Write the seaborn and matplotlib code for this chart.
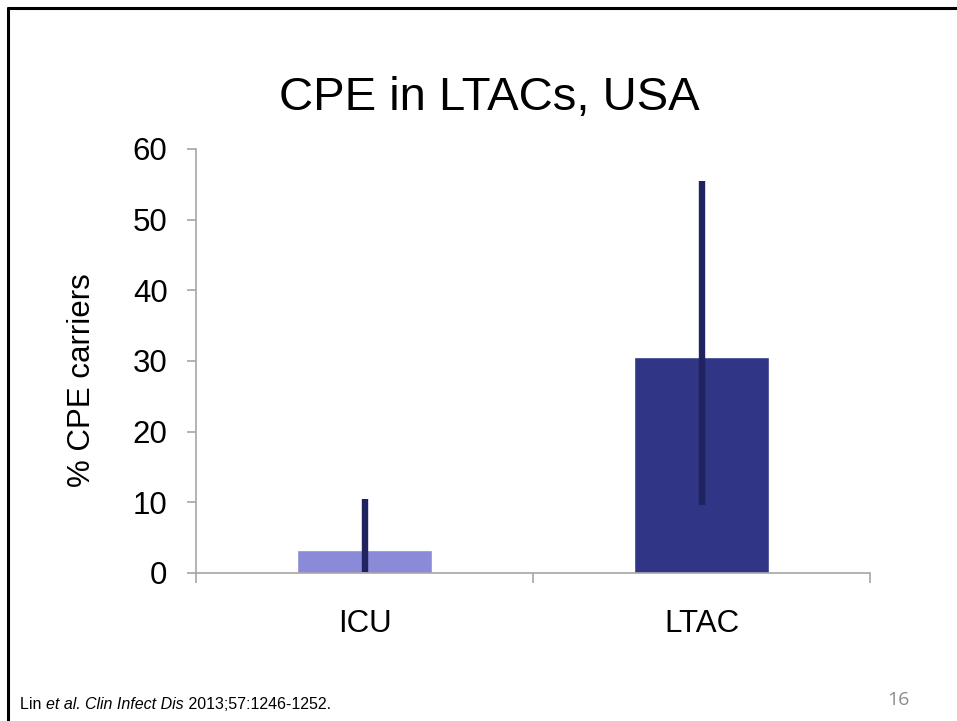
import matplotlib
matplotlib.use("Agg")
import matplotlib.pyplot as plt
from matplotlib.lines import Line2D
import seaborn as sns

# data
categories = ["ICU", "LTAC"]
pct_carriers = [3.3, 30.5]
ci_low = [0.1, 9.6]
ci_high = [10.5, 55.5]
bar_colors = ["#8a8ad8", "#313585"]
y_ticks = [0, 10, 20, 30, 40, 50, 60]

sns.set_theme(style="white")
plt.rcParams["font.family"] = ["Liberation Sans", "DejaVu Sans"]

W, H = 957, 721
fig = plt.figure(figsize=(W / 100, H / 100), dpi=100)
ax = fig.add_axes([196 / W, 1 - 573 / H, (870 - 196) / W, (573 - 149) / H])

sns.barplot(x=categories, y=pct_carriers, hue=categories, palette=bar_colors,
            width=0.4, errorbar=None, legend=False, saturation=1, ax=ax)

xpos = list(range(len(categories)))
yerr = [[p - lo for p, lo in zip(pct_carriers, ci_low)],
        [hi - p for p, hi in zip(pct_carriers, ci_high)]]
ax.errorbar(xpos, pct_carriers, yerr=yerr, fmt="none", ecolor="#1f2460",
            elinewidth=4.6, capsize=0, zorder=5)

ax.set_xlim(-0.5, 1.5)
ax.set_ylim(0, 60)
ax.set_yticks(y_ticks)
ax.set_xticks(xpos)
ax.set_xticklabels(categories)
ax.set_xticks([-0.5, 0.5, 1.5], minor=True)
ax.set_xlabel("")
ax.set_ylabel("")

grey = "#a6a6a6"
for side in ["top", "right"]:
    ax.spines[side].set_visible(False)
for side in ["left", "bottom"]:
    ax.spines[side].set_color(grey)
    ax.spines[side].set_linewidth(1.2)

ax.tick_params(axis="y", which="major", direction="out", length=6.5, width=1.2,
               color=grey, labelsize=22.5, pad=14, left=True, labelcolor="black")
ax.tick_params(axis="x", which="major", length=0, labelsize=22.5, pad=26,
               labelcolor="black")
ax.tick_params(axis="x", which="minor", direction="out", length=7.5, width=1.2,
               color=grey, bottom=True)

fig.text(489 / W, 1 - 110 / H, "CPE in LTACs, USA", fontsize=34,
         ha="center", va="baseline", color="black")
fig.text(82 / W, 1 - 380 / H, "% CPE carriers", fontsize=22.5, rotation=90,
         ha="center", va="center", color="black")

# citation line with italic parts
pieces = [("Lin ", "normal"), ("et al.", "italic"), (" ", "normal"),
          ("Clin Infect Dis", "italic"), (" 2013;57:1246-1252.", "normal")]
fig.canvas.draw()
renderer = fig.canvas.get_renderer()
x = 20
for txt, style in pieces:
    t = fig.text(x / W, 1 - 709 / H, txt, fontsize=11.5, style=style,
                 ha="left", va="baseline", color="black")
    bb = t.get_window_extent(renderer=renderer)
    x = bb.x1

fig.text(898 / W, 1 - 705 / H, "16", fontsize=14, color="#8c8c8c",
         ha="center", va="baseline", family=["Open Sans", "DejaVu Sans"])

# slide frame (top and left edges)
fig.add_artist(Line2D([8 / W, 1], [1 - 8 / H, 1 - 8 / H], color="black",
                      linewidth=2.2, transform=fig.transFigure))
fig.add_artist(Line2D([8 / W, 8 / W], [0, 1 - 8 / H], color="black",
                      linewidth=2.2, transform=fig.transFigure))

fig.savefig("out.png", dpi=100, facecolor="white")
